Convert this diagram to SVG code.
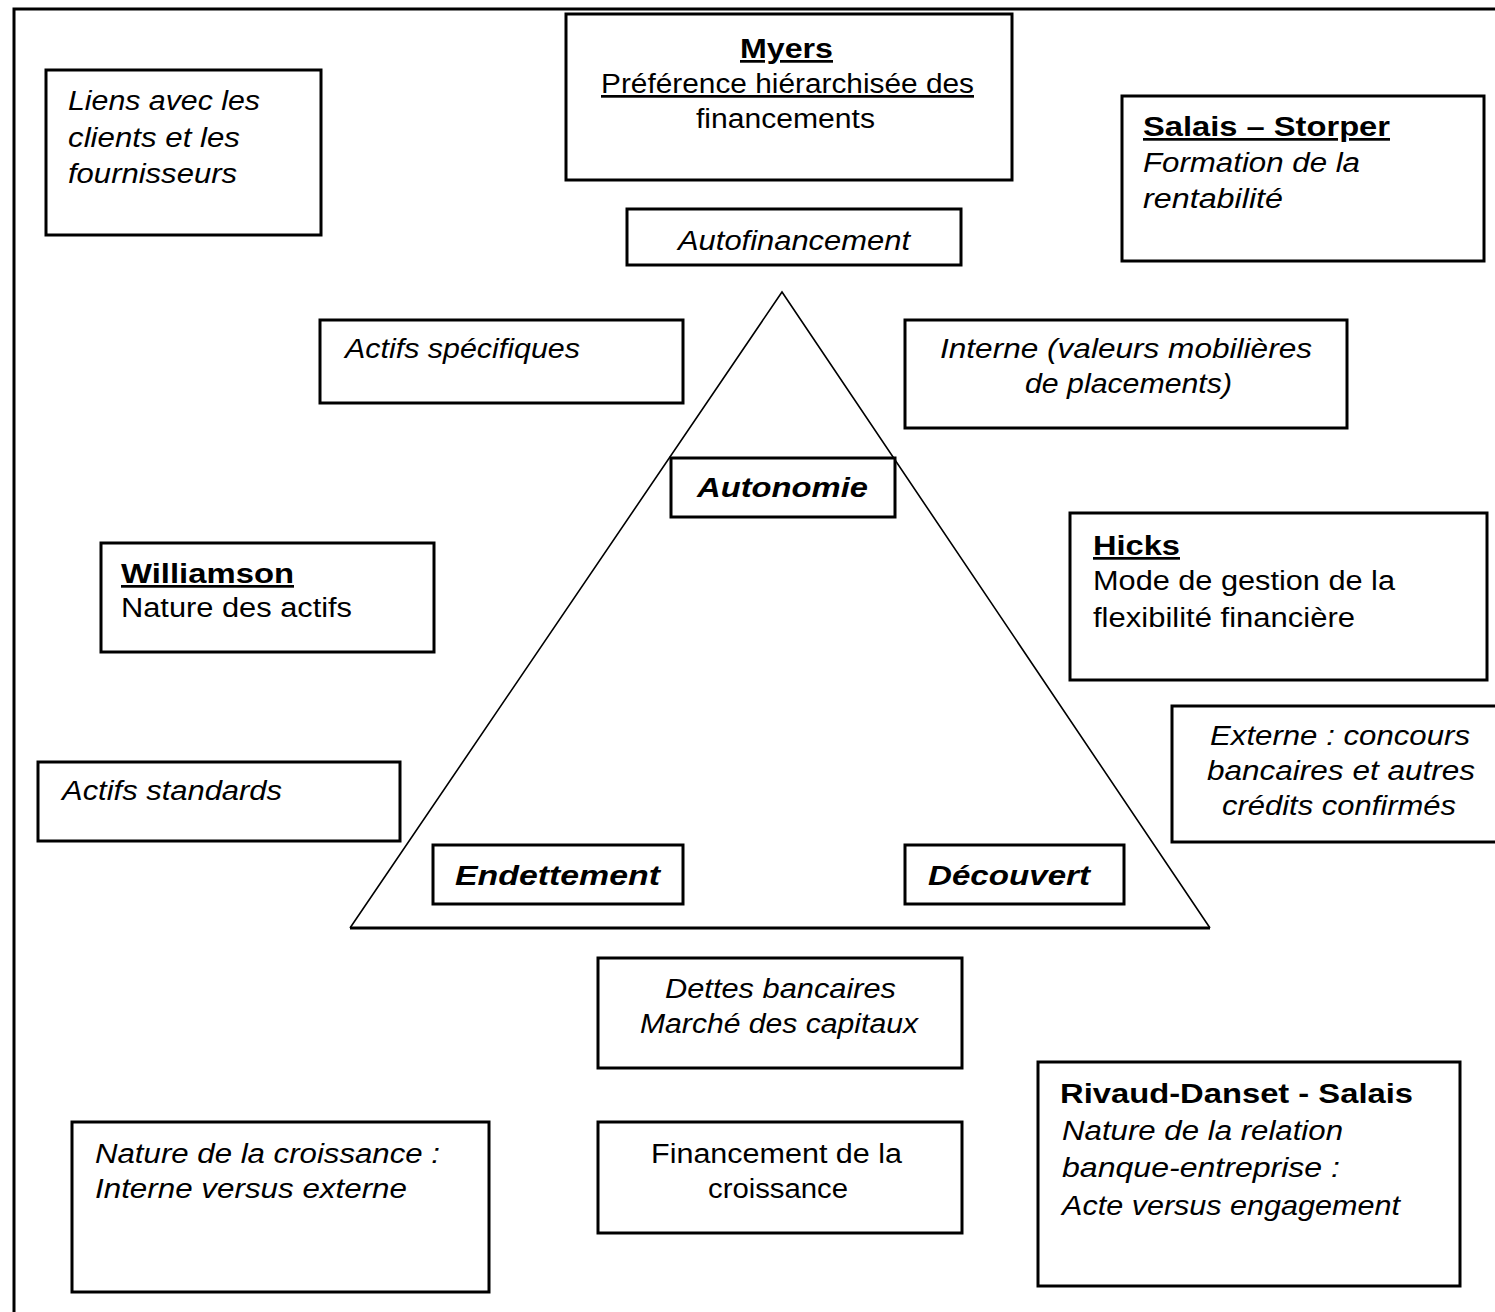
<svg xmlns="http://www.w3.org/2000/svg" width="1495" height="1312" viewBox="0 0 1495 1312">
  <style>
    .box { fill: #fff; stroke: #000; stroke-width: 3; }
    .t { font-family: "Liberation Sans", Arial, sans-serif; font-size: 27px; fill: #000; }
    .i { font-style: italic; }
    .b { font-weight: bold; }
    .u { text-decoration: underline; }
    .c { text-anchor: middle; }
  </style>
  <rect width="1495" height="1312" fill="#fff"/>

  <!-- outer frame (top and left edges) -->
  <path d="M14 1312 V9 H1495" fill="none" stroke="#000" stroke-width="3"/>

  <!-- pyramid -->
  <g id="connectors">
    <path d="M350 928 L782 292 L1210 928" fill="none" stroke="#000" stroke-width="1.6"/>
    <path d="M350 928 H1210" fill="none" stroke="#000" stroke-width="3"/>
  </g>

  <g id="liens">
    <rect class="box" x="46" y="70" width="275" height="165"/>
    <text class="t i" x="68" y="110" textLength="192" lengthAdjust="spacingAndGlyphs">Liens avec les</text>
    <text class="t i" x="68" y="147" textLength="172" lengthAdjust="spacingAndGlyphs">clients et les</text>
    <text class="t i" x="68" y="183" textLength="169" lengthAdjust="spacingAndGlyphs">fournisseurs</text>
  </g>

  <g id="myers">
    <rect class="box" x="566" y="14" width="446" height="166"/>
    <text class="t b u" x="740" y="58" textLength="93" lengthAdjust="spacingAndGlyphs">Myers</text>
    <text class="t u" x="601" y="93" textLength="373" lengthAdjust="spacingAndGlyphs">Préférence hiérarchisée des</text>
    <text class="t" x="696" y="128" textLength="179" lengthAdjust="spacingAndGlyphs">financements</text>
  </g>

  <g id="autofinancement">
    <rect class="box" x="627" y="209" width="334" height="56"/>
    <text class="t i" x="678" y="250" textLength="232" lengthAdjust="spacingAndGlyphs">Autofinancement</text>
  </g>

  <g id="salais-storper">
    <rect class="box" x="1122" y="96" width="362" height="165"/>
    <text class="t b u" x="1143" y="136" textLength="247" lengthAdjust="spacingAndGlyphs">Salais – Storper</text>
    <text class="t i" x="1143" y="172" textLength="217" lengthAdjust="spacingAndGlyphs">Formation de la</text>
    <text class="t i" x="1143" y="208" textLength="140" lengthAdjust="spacingAndGlyphs">rentabilité</text>
  </g>

  <g id="actifs-specifiques">
    <rect class="box" x="320" y="320" width="363" height="83"/>
    <text class="t i" x="345" y="358" textLength="235" lengthAdjust="spacingAndGlyphs">Actifs spécifiques</text>
  </g>

  <g id="interne">
    <rect class="box" x="905" y="320" width="442" height="108"/>
    <text class="t i" x="940" y="358" textLength="372" lengthAdjust="spacingAndGlyphs">Interne (valeurs mobilières</text>
    <text class="t i" x="1025" y="393" textLength="207" lengthAdjust="spacingAndGlyphs">de placements)</text>
  </g>

  <g id="autonomie">
    <rect class="box" x="671" y="458" width="224" height="59"/>
    <text class="t b i" x="697" y="497" textLength="171" lengthAdjust="spacingAndGlyphs">Autonomie</text>
  </g>

  <g id="williamson">
    <rect class="box" x="101" y="543" width="333" height="109"/>
    <text class="t b u" x="121" y="583" textLength="173" lengthAdjust="spacingAndGlyphs">Williamson</text>
    <text class="t" x="121" y="617" textLength="231" lengthAdjust="spacingAndGlyphs">Nature des actifs</text>
  </g>

  <g id="hicks">
    <rect class="box" x="1070" y="513" width="417" height="167"/>
    <text class="t b u" x="1093" y="555" textLength="87" lengthAdjust="spacingAndGlyphs">Hicks</text>
    <text class="t" x="1093" y="590" textLength="302" lengthAdjust="spacingAndGlyphs">Mode de gestion de la</text>
    <text class="t" x="1093" y="627" textLength="262" lengthAdjust="spacingAndGlyphs">flexibilité financière</text>
  </g>

  <g id="externe">
    <rect class="box" x="1172" y="706" width="340" height="136"/>
    <text class="t i" x="1210" y="745" textLength="260" lengthAdjust="spacingAndGlyphs">Externe : concours</text>
    <text class="t i" x="1207" y="780" textLength="268" lengthAdjust="spacingAndGlyphs">bancaires et autres</text>
    <text class="t i" x="1222" y="815" textLength="234" lengthAdjust="spacingAndGlyphs">crédits confirmés</text>
  </g>

  <g id="actifs-standards">
    <rect class="box" x="38" y="762" width="362" height="79"/>
    <text class="t i" x="62" y="800" textLength="220" lengthAdjust="spacingAndGlyphs">Actifs standards</text>
  </g>

  <g id="endettement">
    <rect class="box" x="433" y="845" width="250" height="59"/>
    <text class="t b i" x="455" y="885" textLength="205" lengthAdjust="spacingAndGlyphs">Endettement</text>
  </g>

  <g id="decouvert">
    <rect class="box" x="905" y="845" width="219" height="59"/>
    <text class="t b i" x="928" y="885" textLength="162" lengthAdjust="spacingAndGlyphs">Découvert</text>
  </g>

  <g id="dettes">
    <rect class="box" x="598" y="958" width="364" height="110"/>
    <text class="t i" x="665" y="998" textLength="231" lengthAdjust="spacingAndGlyphs">Dettes bancaires</text>
    <text class="t i" x="640" y="1033" textLength="278" lengthAdjust="spacingAndGlyphs">Marché des capitaux</text>
  </g>

  <g id="financement">
    <rect class="box" x="598" y="1122" width="364" height="111"/>
    <text class="t" x="651" y="1163" textLength="251" lengthAdjust="spacingAndGlyphs">Financement de la</text>
    <text class="t" x="708" y="1198" textLength="140" lengthAdjust="spacingAndGlyphs">croissance</text>
  </g>

  <g id="nature-croissance">
    <rect class="box" x="72" y="1122" width="417" height="170"/>
    <text class="t i" x="95" y="1163" textLength="345" lengthAdjust="spacingAndGlyphs">Nature de la croissance :</text>
    <text class="t i" x="95" y="1198" textLength="312" lengthAdjust="spacingAndGlyphs">Interne versus externe</text>
  </g>

  <g id="rivaud-danset">
    <rect class="box" x="1038" y="1062" width="422" height="224"/>
    <text class="t b" x="1060" y="1103" textLength="353" lengthAdjust="spacingAndGlyphs">Rivaud-Danset - Salais</text>
    <text class="t i" x="1062" y="1140" textLength="281" lengthAdjust="spacingAndGlyphs">Nature de la relation</text>
    <text class="t i" x="1062" y="1177" textLength="278" lengthAdjust="spacingAndGlyphs">banque-entreprise :</text>
    <text class="t i" x="1062" y="1215" textLength="338" lengthAdjust="spacingAndGlyphs">Acte versus engagement</text>
  </g>
</svg>
